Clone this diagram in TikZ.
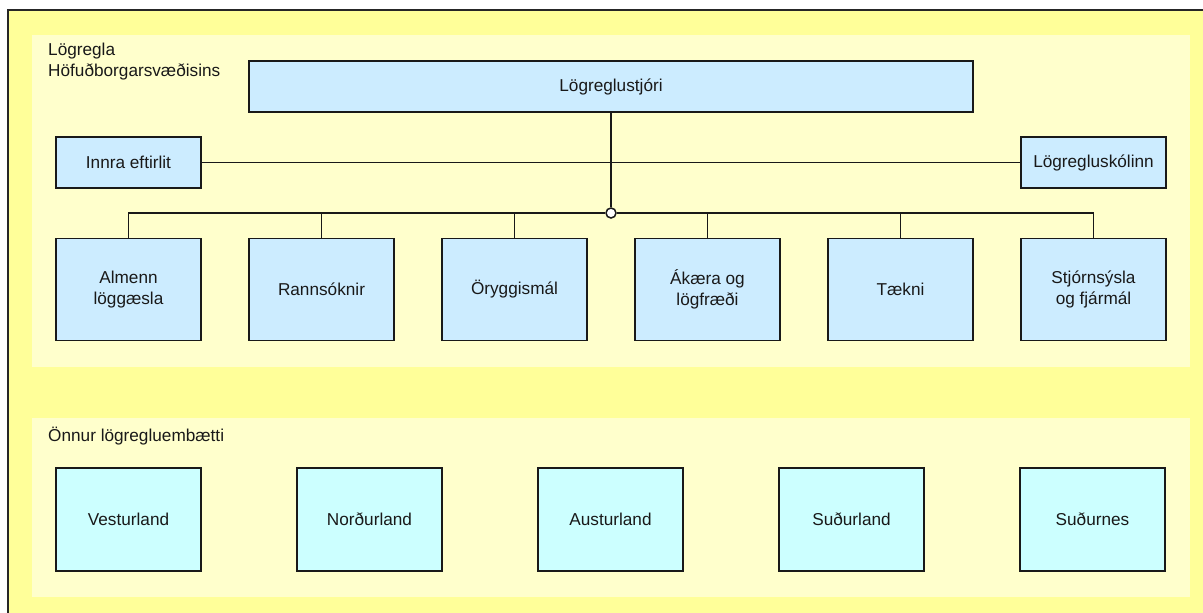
\documentclass[tikz,border=0pt]{standalone}
\usepackage{fontspec}
\setmainfont{Liberation Sans}
\begin{document}
\begin{tikzpicture}[x=1pt,y=-1pt,
  every node/.style={font=\fontsize{17.2}{21}\selectfont, text=black!90},
  topbox/.style={draw=black!90, line width=1.5pt, fill=blueA, inner sep=0pt, minimum width=145pt, minimum height=51pt, align=center},
  unitbox/.style={draw=black!90, line width=1.5pt, fill=blueA, inner sep=0pt, minimum width=145pt, minimum height=102pt, align=center},
  regbox/.style={draw=black!90, line width=1.5pt, fill=cyanA, inner sep=0pt, minimum width=145pt, minimum height=103pt, align=center},
  conn/.style={draw=black!90, line width=1.6pt}]
\definecolor{yelOuter}{HTML}{FFFF99}
\definecolor{yelInner}{HTML}{FFFFCC}
\definecolor{blueA}{HTML}{CCECFF}
\definecolor{cyanA}{HTML}{CCFFFF}
\useasboundingbox (0,0) rectangle (1203,613);
\fill[white] (0,0) rectangle (1203,613);
\fill[yelOuter] (8,10) rectangle (1203,613);
\draw[line width=1.1pt, black!85] (8,613) -- (8,10) -- (1203,10);
\fill[yelInner] (32,35) rectangle (1190,367);
\fill[yelInner] (32,418) rectangle (1190,597);
\node[anchor=north west, align=left, inner sep=0pt] (t1) at (48,43) {Lögregla\\Höfuðborgarsvæðisins};
\node[anchor=north west, inner sep=0pt] (t2) at (48,427) {Önnur lögregluembætti};
% top level
\node[topbox, minimum width=724pt] (chief) at (611,86.5) {Lögreglustjóri};
\node[topbox] (innra) at (128.5,162.5) {Innra eftirlit};
\node[topbox] (skoli) at (1093.5,162.5) {Lögregluskólinn};
% units
\node[unitbox] (u1) at (128.5,289.5) {Almenn\\löggæsla};
\node[unitbox] (u2) at (321.5,289.5) {Rannsóknir};
\node[unitbox] (u3) at (514.5,289.5) {Öryggismál};
\node[unitbox] (u4) at (707.5,289.5) {Ákæra og\\lögfræði};
\node[unitbox] (u5) at (900.5,289.5) {Tækni};
\node[unitbox] (u6) at (1093.5,289.5) {Stjórnsýsla\\og fjármál};
% hub
\node[circle, draw=black!90, line width=1.5pt, fill=white, inner sep=0pt, minimum size=10pt] (hub) at (611,213) {};
\draw[conn] (innra.east) -- (skoli.west);
\draw[conn] (chief.south) -- (hub.north);
\draw[conn] (u1.north) |- (hub.west);
\draw[conn] (u6.north) |- (hub.east);
\draw[conn] (u2.north) -- (u2.north |- hub.center);
\draw[conn] (u3.north) -- (u3.north |- hub.center);
\draw[conn] (u4.north) -- (u4.north |- hub.center);
\draw[conn] (u5.north) -- (u5.north |- hub.center);
% regions
\node[regbox] (r1) at (128.5,519.5) {Vesturland};
\node[regbox] (r2) at (369.5,519.5) {Norðurland};
\node[regbox] (r3) at (610.5,519.5) {Austurland};
\node[regbox] (r4) at (851.5,519.5) {Suðurland};
\node[regbox] (r5) at (1092.5,519.5) {Suðurnes};
\end{tikzpicture}
\end{document}
